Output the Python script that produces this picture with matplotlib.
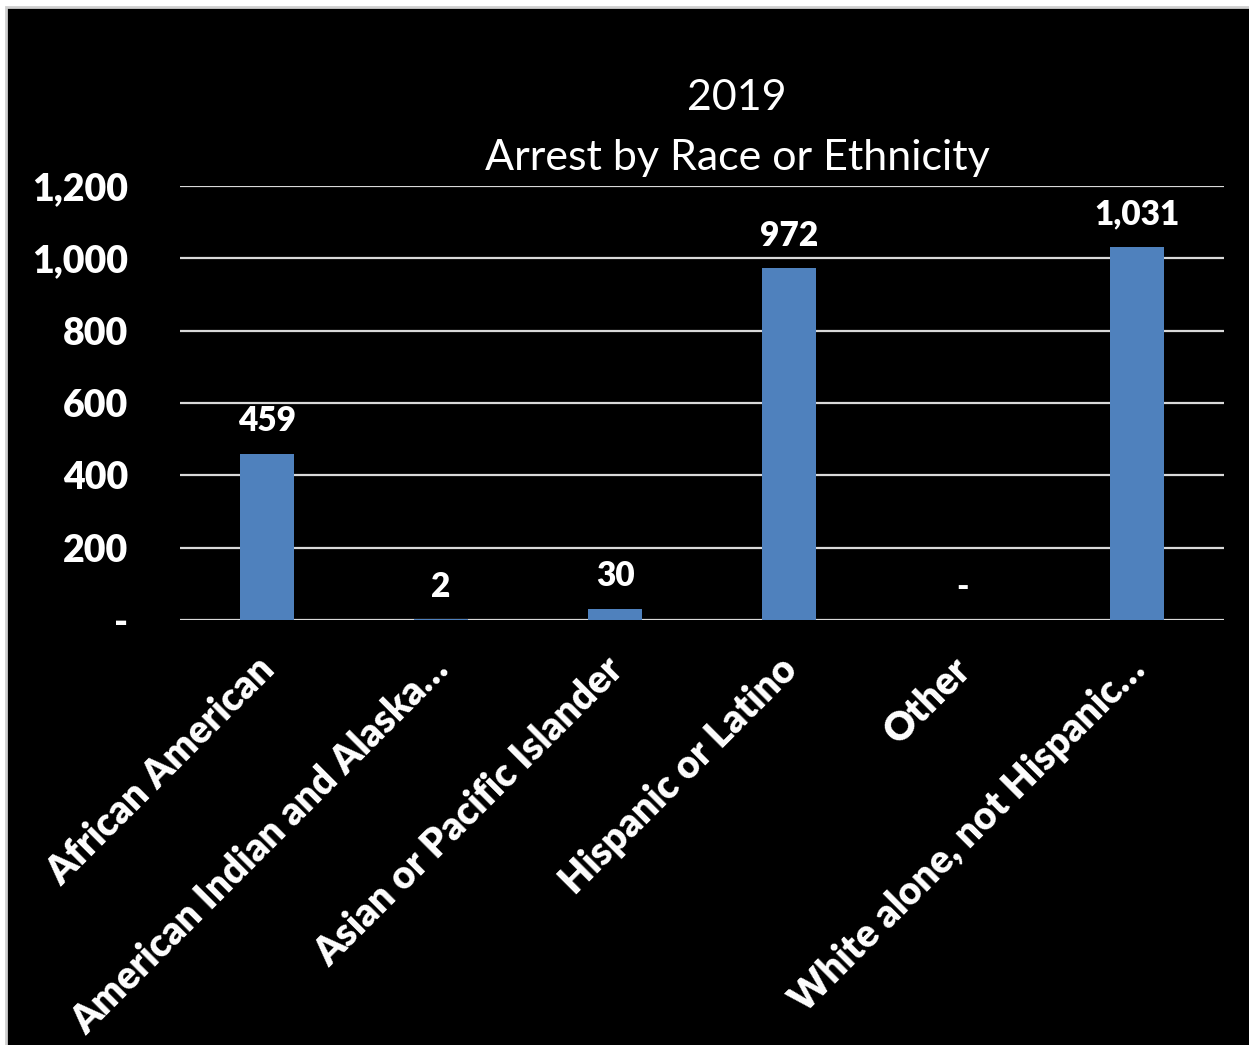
import matplotlib.pyplot as plt
from matplotlib.patches import Rectangle
from matplotlib.ticker import FuncFormatter
from matplotlib.transforms import ScaledTranslation

# data
categories = ["African American", "American Indian and Alaska\u2026",
              "Asian or Pacific Islander", "Hispanic or Latino", "Other",
              "White alone, not Hispanic\u2026"]
arrests = [459, 2, 30, 972, 0, 1031]
y_ticks = [0, 200, 400, 600, 800, 1000, 1200]

plt.rcParams['font.family'] = ['Lato', 'DejaVu Sans']


def fmt(v):
    return "-" if v == 0 else f"{int(v):,}"


fig = plt.figure(figsize=(12.49, 10.45), dpi=100, facecolor='white')
# black panel with a light frame on top/left
fig.patches.append(Rectangle((6 / 1249, -0.02), 1.02, 1.02 - 7 / 1045, transform=fig.transFigure,
                             facecolor='black', edgecolor='#cfcfcf', linewidth=2, zorder=-1))

ax = fig.add_axes([180 / 1249, 425 / 1045, 1044 / 1249, 434 / 1045])
ax.set_facecolor('black')
x = list(range(len(categories)))
ax.bar(x, arrests, width=0.31, color='#4f81bd', zorder=3)

ax.set_xlim(-0.5, len(categories) - 0.5)
ax.set_ylim(0, 1200)
ax.set_yticks(y_ticks)
ax.yaxis.set_major_formatter(FuncFormatter(lambda v, p: fmt(v)))
ax.grid(axis='y', color='#d9d9d9', linewidth=1.6, zorder=0)
for s in ax.spines.values():
    s.set_visible(False)
ax.tick_params(length=0, colors='white')
ax.tick_params(axis='y', pad=37, labelsize=27)
for lab in ax.get_yticklabels():
    lab.set_fontweight('heavy')

ax.set_xticks(x)
ax.set_xticklabels(categories, rotation=45, ha='right', rotation_mode='anchor',
                   fontsize=28, fontweight='heavy', color='white')
ax.tick_params(axis='x', pad=22)
shift = ScaledTranslation(-8 / 72, 0, fig.dpi_scale_trans)
for lab in ax.get_xticklabels():
    lab.set_transform(lab.get_transform() + shift)

for xi, v in zip(x, arrests):
    ax.annotate(fmt(v), (xi, v), xytext=(0, 12), textcoords='offset points',
                ha='center', va='bottom', color='white', fontsize=24, fontweight='heavy')

fig.text(737 / 1249, 1 - 98 / 1045, "2019", ha='center', va='center', color='white', fontsize=31)
fig.text(737 / 1249, 1 - 158 / 1045, "Arrest by Race or Ethnicity", ha='center', va='center',
         color='white', fontsize=31)

fig.savefig('out.png', dpi=100, facecolor='white')
